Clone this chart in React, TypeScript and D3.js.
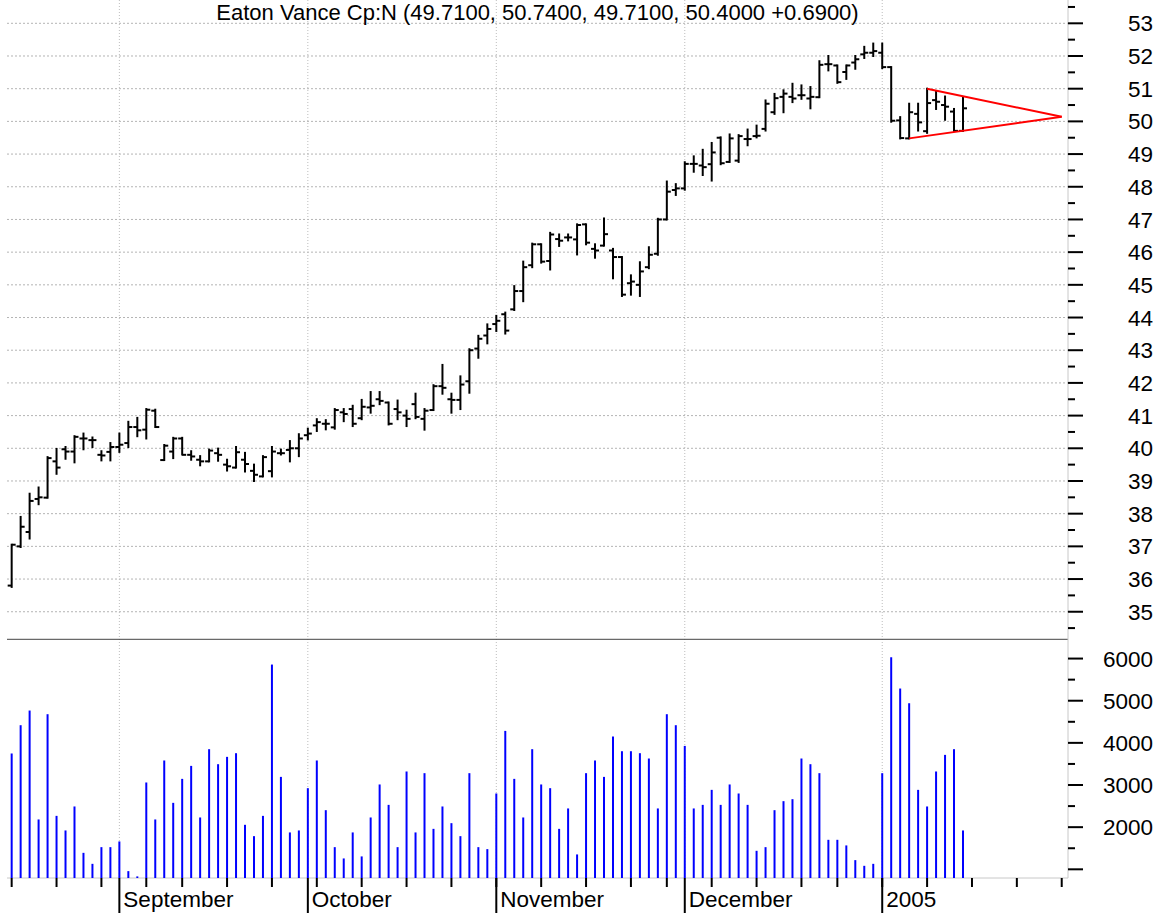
import React from 'react';
import * as d3 from 'd3';

// daily bars, Aug 16 2004 .. Jan 14 2005 (trading-day index)
const opens = [35.8, 37.0, 37.44, 38.45, 38.49, 39.6, 39.97, 39.9, 40.3, 40.25, 39.8, 39.89, 40.04, 40.16, 40.65, 40.57, 41.15, 39.64, 39.9, 40.3,
  39.8, 39.65, 39.6, 39.85, 39.5, 39.41, 39.65, 39.31, 39.14, 39.3, 39.85, 39.95, 40.0, 40.4, 40.7, 40.75, 40.64, 41.1, 41.2, 40.92,
  41.25, 41.5, 41.4, 41.2, 41.0, 41.35, 40.9, 41.17, 41.9, 41.5, 41.48, 42.05, 43.05, 43.45, 43.8, 44.1, 44.25, 44.81, 45.6, 46.24,
  45.73, 46.4, 46.45, 46.39, 46.85, 46.1, 46.2, 46.05, 45.85, 45.05, 45.0, 45.54, 45.95, 47.0, 47.9, 47.95, 48.7, 48.65, 48.69, 49.5,
  48.76, 48.8, 49.46, 49.55, 49.77, 50.28, 50.75, 50.75, 50.8, 50.7, 50.74, 51.75, 51.71, 51.51, 51.8, 52.05, 52.1, 52.1, 51.66, 50.03,
  49.48, 50.23, 49.7, 50.65, 50.5, 50.3, 49.71];
const highs = [37.05, 37.9, 38.61, 38.8, 39.73, 39.98, 40.04, 40.37, 40.45, 40.33, 39.91, 40.16, 40.45, 40.81, 40.93, 41.2, 41.18, 40.1, 40.32, 40.32,
  39.91, 39.76, 39.96, 39.99, 39.65, 40.04, 39.86, 39.5, 39.76, 40.04, 39.96, 40.22, 40.43, 40.6, 40.89, 40.86, 41.2, 41.2, 41.3, 41.48,
  41.72, 41.72, 41.4, 41.46, 41.15, 41.67, 41.2, 41.93, 42.55, 41.67, 42.2, 43.03, 43.44, 43.79, 44.05, 44.15, 44.96, 45.71, 46.26, 46.24,
  46.59, 46.54, 46.54, 46.85, 46.85, 46.24, 47.03, 46.1, 45.85, 45.29, 45.69, 46.15, 47.02, 48.16, 48.08, 48.75, 48.93, 49.13, 49.34, 49.51,
  49.6, 49.58, 49.75, 49.87, 50.64, 50.84, 50.95, 51.15, 51.1, 51.05, 51.84, 52.0, 51.71, 51.71, 52.0, 52.28, 52.38, 52.38, 51.66, 50.13,
  50.54, 50.54, 51.0, 50.9, 50.76, 50.38, 50.74];
const lows = [35.76, 36.98, 37.24, 38.29, 38.49, 39.22, 39.68, 39.57, 39.97, 40.04, 39.63, 39.63, 39.89, 40.04, 40.37, 40.3, 40.65, 39.64, 39.7, 39.81,
  39.65, 39.48, 39.6, 39.62, 39.32, 39.41, 39.29, 39.0, 39.14, 39.14, 39.81, 39.6, 39.76, 40.27, 40.53, 40.58, 40.6, 40.83, 40.68, 40.89,
  41.09, 41.35, 40.73, 40.89, 40.68, 40.92, 40.57, 41.17, 41.67, 41.09, 41.2, 41.7, 42.77, 43.21, 43.59, 43.51, 44.23, 44.5, 45.54, 45.68,
  45.47, 46.19, 46.36, 45.93, 46.24, 45.83, 46.2, 45.2, 44.66, 44.7, 44.66, 45.51, 45.92, 47.0, 47.75, 47.91, 48.46, 48.36, 48.19, 48.69,
  48.76, 48.76, 49.27, 49.51, 49.72, 50.23, 50.28, 50.59, 50.69, 50.4, 50.74, 51.56, 51.18, 51.3, 51.61, 51.94, 52.0, 51.63, 49.99, 49.48,
  49.48, 49.72, 49.65, 50.38, 50.05, 49.71, 49.71];
const closes = [37.05, 37.6, 38.39, 38.5, 39.7, 39.41, 39.9, 40.35, 40.3, 40.25, 39.78, 40.04, 40.11, 40.65, 40.55, 41.18, 40.65, 40.08, 40.3, 39.8,
  39.75, 39.6, 39.93, 39.8, 39.45, 39.88, 39.52, 39.19, 39.73, 39.9, 39.85, 40.0, 40.3, 40.45, 40.8, 40.75, 41.17, 41.05, 40.75, 41.27,
  41.3, 41.45, 40.75, 41.1, 40.9, 40.96, 41.15, 41.9, 41.85, 41.48, 41.95, 43.0, 43.35, 43.65, 43.9, 43.6, 44.81, 45.54, 46.24, 45.71,
  46.54, 46.35, 46.45, 46.83, 46.29, 46.05, 46.55, 45.85, 44.7, 45.1, 45.41, 45.92, 47.0, 47.85, 47.95, 48.7, 48.7, 48.6, 49.05, 48.72,
  49.48, 49.55, 49.46, 49.56, 50.54, 50.71, 50.85, 50.7, 50.8, 50.75, 51.73, 51.75, 51.2, 51.71, 51.9, 52.1, 52.15, 51.66, 50.02, 49.49,
  50.28, 49.97, 50.56, 50.6, 50.45, 49.71, 50.4];
const volumes = [3748, 4419, 4767, 2183, 4680, 2268, 1922, 2491, 1391, 1130, 1526, 1526, 1661, 957, 832, 3060, 2183, 3582, 2577, 3146,
  3454, 2230, 3850, 3494, 3668, 3755, 2056, 1787, 2268, 5858, 3193, 1875, 1922, 2925, 3582, 2403, 1526, 1258, 1875, 1306,
  2230, 3013, 2529, 1526, 3321, 1875, 3281, 1960, 2491, 2095, 1787, 3281, 1526, 1479, 2799, 4284, 3146, 2230, 3850, 3013,
  2925, 1960, 2444, 1353, 3281, 3582, 3193, 4151, 3802, 3802, 3755, 3629, 2444, 4680, 4419, 3928, 2444, 2529, 2885, 2529,
  3013, 2799, 2529, 1439, 1526, 2403, 2617, 2664, 3629, 3494, 3281, 1700, 1700, 1567, 1218, 1083, 1130, 3281, 6031, 5289,
  4940, 2885, 2491, 3321, 3715, 3850, 1922];

const monthLabels = ['September', 'October', 'November', 'December', '2005'];
const monthStarts = [12, 33, 54, 75, 97];
const weekStarts = [0, 5, 10, 15, 19, 24, 29, 34, 39, 44, 49, 54, 59, 64, 69, 73, 78, 83, 88, 92, 97, 102, 107, 112, 117];

const priceTicks = [35, 36, 37, 38, 39, 40, 41, 42, 43, 44, 45, 46, 47, 48, 49, 50, 51, 52, 53];
const volTicks = [1000, 2000, 3000, 4000, 5000, 6000];
const volLabels = ['', '2000', '3000', '4000', '5000', '6000'];

// triangle drawn on the last weeks: [index, price]
const triUpper = [[102, 51.0], [117, 50.14]];
const triLower = [[100, 49.48], [117, 50.14]];

const title = 'Eaton Vance Cp:N (49.7100, 50.7400, 49.7100, 50.4000 +0.6900)';

const W = 1163;
const H = 915;
const left = 7;
const right = 1068;
const priceBottom = 639.3;
const volBottom = 878;
const font = '"Liberation Sans", Arial, sans-serif';
const labelSize = 22.5;

export default function App() {
  const x = d3.scaleLinear().domain([-1.3, 117.7]).range([0, right]);
  const yP = d3.scaleLinear().domain([34.157, 53.713]).range([priceBottom, 0]);
  const yV = d3.scaleLinear().domain([794, 6457]).range([volBottom, priceBottom]);

  const halfTicks = d3.range(34.5, 53.6, 1);
  const volHalf = d3.range(1500, 6000, 1000);
  const line = d3.line<number[]>().x(d => x(d[0])).y(d => yP(d[1]));

  return (
    <svg width={W} height={H} style={{ position: 'absolute', left: 0, top: 0, background: '#fff' }}
      fontFamily={font}>
      <rect x={0} y={0} width={W} height={H} fill="#fff" />

      {/* horizontal price grid */}
      {priceTicks.map(t => (
        <line key={'g' + t} x1={left} x2={right} y1={yP(t)} y2={yP(t)}
          stroke="#b4b4b4" strokeWidth={1} strokeDasharray="2,2" />
      ))}
      {/* month grid */}
      {monthStarts.map(m => (
        <line key={'mg' + m} x1={x(m)} x2={x(m)} y1={0} y2={volBottom}
          stroke="#bdbdbd" strokeWidth={1} strokeDasharray="1,2" />
      ))}

      {/* panel divider */}
      <line x1={left} x2={right} y1={priceBottom} y2={priceBottom} stroke="#444" strokeWidth={1} />
      {/* right axis */}
      <line x1={right} x2={right} y1={0} y2={volBottom} stroke="#c8c8c8" strokeWidth={1} />
      {/* bottom axis */}
      <line x1={left} x2={right} y1={volBottom} y2={volBottom} stroke="#c8c8c8" strokeWidth={1} />

      {/* title */}
      <text x={(left + right) / 2} y={20} textAnchor="middle" fontSize={22} fill="#000">{title}</text>

      {/* price ticks */}
      {priceTicks.map(t => (
        <g key={'pt' + t}>
          <line x1={right} x2={right + 15} y1={yP(t)} y2={yP(t)} stroke="#000" strokeWidth={2} />
          <text x={1153} y={yP(t)} dy="0.36em" textAnchor="end" fontSize={labelSize} fill="#000">{t}</text>
        </g>
      ))}
      {halfTicks.map(t => (
        <line key={'ph' + t} x1={right} x2={right + 7} y1={yP(t)} y2={yP(t)} stroke="#000" strokeWidth={2} />
      ))}

      {/* volume ticks */}
      {volTicks.map((t, i) => (
        <g key={'vt' + t}>
          <line x1={right} x2={right + 15} y1={yV(t)} y2={yV(t)} stroke="#000" strokeWidth={2} />
          <text x={1153} y={yV(t)} dy="0.36em" textAnchor="end" fontSize={labelSize} fill="#000">{volLabels[i]}</text>
        </g>
      ))}
      {volHalf.map(t => (
        <line key={'vh' + t} x1={right} x2={right + 7} y1={yV(t)} y2={yV(t)} stroke="#000" strokeWidth={2} />
      ))}

      {/* x axis ticks */}
      {weekStarts.map(w => (
        <line key={'w' + w} x1={x(w)} x2={x(w)} y1={volBottom} y2={volBottom + 9} stroke="#000" strokeWidth={2} />
      ))}
      {monthStarts.map((m, i) => (
        <g key={'m' + m}>
          <line x1={x(m)} x2={x(m)} y1={volBottom} y2={913} stroke="#000" strokeWidth={2} />
          <text x={x(m) + 4} y={907} fontSize={labelSize} fill="#000">{monthLabels[i]}</text>
        </g>
      ))}

      {/* volume bars */}
      {volumes.map((v, i) => (
        <line key={'v' + i} x1={x(i)} x2={x(i)} y1={volBottom} y2={yV(v)} stroke="#0000ff" strokeWidth={2} />
      ))}

      {/* OHLC bars */}
      {opens.map((o, i) => {
        const cx = x(i);
        return (
          <g key={'b' + i} stroke="#000" strokeWidth={2}>
            <line x1={cx} x2={cx} y1={yP(highs[i]) - 1} y2={yP(lows[i]) + 1} />
            <line x1={cx - 4} x2={cx} y1={yP(o)} y2={yP(o)} />
            <line x1={cx} x2={cx + 4} y1={yP(closes[i])} y2={yP(closes[i])} />
          </g>
        );
      })}

      {/* triangle */}
      <path d={line(triUpper as number[][]) || ''} fill="none" stroke="#ff0000" strokeWidth={2} />
      <path d={line(triLower as number[][]) || ''} fill="none" stroke="#ff0000" strokeWidth={2} />
    </svg>
  );
}
